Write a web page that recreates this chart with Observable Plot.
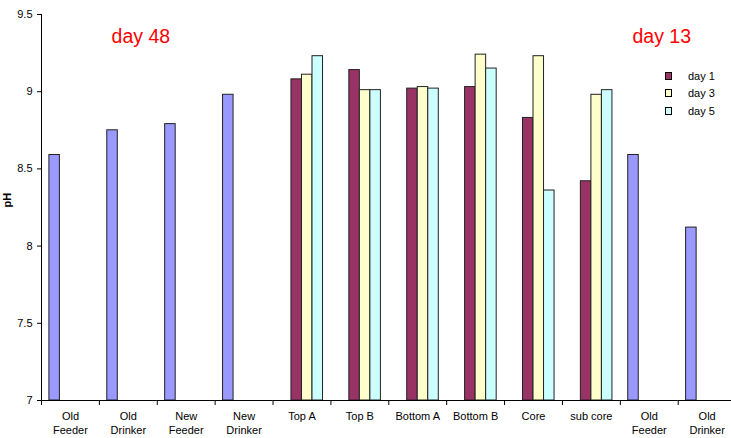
<!DOCTYPE html>
<html><head><meta charset="utf-8">
<script src="https://cdn.jsdelivr.net/npm/d3@7"></script>
<script src="https://cdn.jsdelivr.net/npm/@observablehq/plot@0.6"></script>
<style>
html,body{margin:0;padding:0;background:#fff;overflow:hidden;}
#wrap{position:relative;width:731px;height:438px;overflow:hidden;}
.legend{position:absolute;left:665px;top:67px;font:11px "Liberation Sans",Arial,sans-serif;color:#000;}
.legend .row{display:flex;align-items:center;height:17.5px;}
.legend .sw{width:5px;height:6px;border:1px solid #000;margin-right:16px;}
</style></head><body><div id="wrap"></div>
<script>
// ---- data ----
const tickLabels = ["Old\nFeeder","Old\nDrinker","New\nFeeder","New\nDrinker","Top A","Top B","Bottom A","Bottom B","Core","sub core","Old\nFeeder","Old\nDrinker"];
const day48Values = [8.59, 8.75, 8.79, 8.98];           // first four categories
const day1Values  = [9.08, 9.14, 9.02, 9.03, 8.83, 8.42]; // Top A .. sub core
const day3Values  = [9.11, 9.01, 9.03, 9.24, 9.23, 8.98];
const day5Values  = [9.23, 9.01, 9.02, 9.15, 8.36, 9.01];
const day13Values = [8.59, 8.12];                         // last two categories
const seriesNames = ["single","day 1","day 3","day 5"];
const seriesColors = ["#9999FF","#993366","#FFFFCC","#CCFFFF"];
const legendNames = ["day 1","day 3","day 5"];
const yTicks = [7, 7.5, 8, 8.5, 9, 9.5];
const annotationLabels = ["day 48","day 13"];
const annotationCategory = [1, 10];

// ---- table ----
const rows = [];
day48Values.forEach((v,i)=>rows.push({cat:i, s:"single", v}));
day1Values.forEach((v,j)=>rows.push({cat:4+j, s:"day 1", v}));
day3Values.forEach((v,j)=>rows.push({cat:4+j, s:"day 3", v}));
day5Values.forEach((v,j)=>rows.push({cat:4+j, s:"day 5", v}));
day13Values.forEach((v,k)=>rows.push({cat:10+k, s:"single", v}));
const annotations = annotationLabels.map((label,i)=>({label, cat:annotationCategory[i]}));

const font = "Liberation Sans, Arial, sans-serif";
const left = 41, right = 735.6;
const bw = (right-left)/tickLabels.length;

const chart = Plot.plot({
  width: 731, height: 438,
  marginLeft: left, marginRight: 0, marginTop: 14, marginBottom: 38,
  style: {fontFamily: font, fontSize: "11px", color: "#000", background: "#fff", overflow: "hidden"},
  fx: {domain: d3.range(tickLabels.length), range: [left, right], padding: 0, round: false, axis: null, label: null},
  x: {domain: seriesNames, paddingInner: 0, paddingOuter: 0.75, round: false, axis: null},
  y: {domain: [7, 9.5], axis: null},
  color: {domain: seriesNames, range: seriesColors},
  marks: [
    Plot.barY(rows, {fx: "cat", x: "s", y1: 7, y2: "v", fill: "s", stroke: "#222", strokeWidth: 1}),
    Plot.ruleY([7], {stroke: "#000", strokeWidth: 1}),
    Plot.frame({anchor: "left", facetAnchor: "left", stroke: "#000"}),
    Plot.axisY({ticks: yTicks, tickFormat: d => `${d}`, tickSize: 4, tickPadding: 5, label: null, fontSize: 11, stroke: "#000"}),
    Plot.axisFx({anchor: "bottom", tickSize: 0, tickPadding: 10, tickFormat: i => tickLabels[i], fontSize: 11, lineHeight: 1.25, label: null}),
    Plot.axisFx({anchor: "bottom", tickSize: 5, tickFormat: () => "", dx: -bw/2, label: null, stroke: "#000"}),
    Plot.text(["pH"], {fx: () => 0, frameAnchor: "left", rotate: -90, dx: -34, fontWeight: "bold", fontSize: 11}),
    Plot.text(annotations, {fx: "cat", text: "label", frameAnchor: "top", dy: 22.5, dx: 12.5, lineAnchor: "middle", fill: "#FF0000", fontSize: 19.5})
  ]
});
const wrap = document.getElementById("wrap");
wrap.appendChild(chart);

// legend
const leg = document.createElement("div");
leg.className = "legend";
legendNames.forEach(n => {
  const r = document.createElement("div"); r.className = "row";
  const sw = document.createElement("span"); sw.className = "sw";
  sw.style.background = seriesColors[seriesNames.indexOf(n)];
  const t = document.createElement("span"); t.textContent = n;
  r.appendChild(sw); r.appendChild(t); leg.appendChild(r);
});
wrap.appendChild(leg);
</script></body></html>
